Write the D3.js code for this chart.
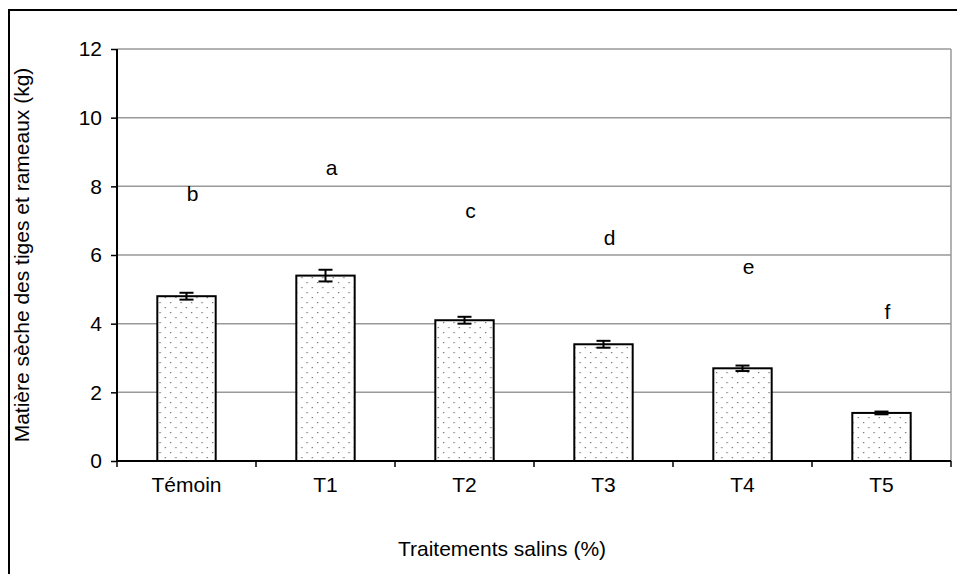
<!DOCTYPE html>
<html>
<head>
<meta charset="utf-8">
<script src="https://cdn.jsdelivr.net/npm/d3@7"></script>
<style>
  body { margin: 0; background: #fff; }
  svg { display: block; font-family: "Liberation Sans", Arial, sans-serif; }
</style>
</head>
<body>
<svg id="chart" width="957" height="574"></svg>
<script>
const categories = ["Témoin", "T1", "T2", "T3", "T4", "T5"];
const values = [4.8, 5.4, 4.1, 3.4, 2.7, 1.4];
const errors = [0.1, 0.17, 0.1, 0.1, 0.08, 0.04];
const letters = ["b", "a", "c", "d", "e", "f"];
const letterLevels = [7.8, 8.55, 7.3, 6.5, 5.65, 4.35];
const yTicks = [0, 2, 4, 6, 8, 10, 12];

const svg = d3.select("#chart");
const plot = { left: 117, right: 951, top: 49, bottom: 461 };

// outer frame (only top and left visible)
svg.append("path")
  .attr("d", "M9,574 V10 H957")
  .attr("fill", "none")
  .attr("stroke", "#000")
  .attr("stroke-width", 2);

const x = d3.scaleBand()
  .domain(categories)
  .range([plot.left, plot.right])
  .paddingInner(0.58)
  .paddingOuter(0.29);

const y = d3.scaleLinear()
  .domain([0, 12])
  .range([plot.bottom, plot.top]);

// dotted fill
const pat = svg.append("defs").append("pattern")
  .attr("id", "dots")
  .attr("patternUnits", "userSpaceOnUse")
  .attr("width", 10.5)
  .attr("height", 10);
pat.append("rect").attr("width", 10.5).attr("height", 10).attr("fill", "#fff");
pat.append("rect").attr("x", 2).attr("y", 2).attr("width", 1.2).attr("height", 1.2).attr("fill", "#666");
pat.append("rect").attr("x", 7.25).attr("y", 7).attr("width", 1.2).attr("height", 1.2).attr("fill", "#666");

// gridlines
svg.append("g")
  .selectAll("line")
  .data(yTicks.filter(d => d > 0))
  .join("line")
  .attr("x1", plot.left)
  .attr("x2", plot.right)
  .attr("y1", d => y(d))
  .attr("y2", d => y(d))
  .attr("stroke", "#999")
  .attr("stroke-width", 1.5);

// right border of plot area
svg.append("line")
  .attr("x1", plot.right).attr("x2", plot.right)
  .attr("y1", plot.top).attr("y2", plot.bottom)
  .attr("stroke", "#999")
  .attr("stroke-width", 1.5);

// bars
svg.append("g")
  .selectAll("rect")
  .data(values)
  .join("rect")
  .attr("x", (d, i) => x(categories[i]))
  .attr("y", d => y(d))
  .attr("width", x.bandwidth())
  .attr("height", d => y(0) - y(d))
  .attr("fill", "url(#dots)")
  .attr("stroke", "#000")
  .attr("stroke-width", 2);

// error bars
const eb = svg.append("g").attr("stroke", "#000").attr("stroke-width", 2);
values.forEach((v, i) => {
  const cx = x(categories[i]) + x.bandwidth() / 2;
  const e = errors[i];
  eb.append("line").attr("x1", cx).attr("x2", cx).attr("y1", y(v + e)).attr("y2", y(v - e));
  eb.append("line").attr("x1", cx - 7).attr("x2", cx + 7).attr("y1", y(v + e)).attr("y2", y(v + e));
  eb.append("line").attr("x1", cx - 7).attr("x2", cx + 7).attr("y1", y(v - e)).attr("y2", y(v - e));
});

// significance letters
svg.append("g")
  .selectAll("text")
  .data(letters)
  .join("text")
  .attr("x", (d, i) => x(categories[i]) + x.bandwidth() / 2 + 6)
  .attr("y", (d, i) => y(letterLevels[i]))
  .attr("dy", "0.35em")
  .attr("text-anchor", "middle")
  .attr("font-size", 21)
  .text(d => d);

// y axis
const yAxis = svg.append("g")
  .attr("transform", `translate(${plot.left},0)`)
  .call(d3.axisLeft(y).tickValues(yTicks).tickSize(6).tickPadding(9));
yAxis.select(".domain").attr("stroke-width", 2).attr("d", `M0,${plot.top}V${plot.bottom}`);
yAxis.selectAll(".tick line").attr("stroke-width", 1.5);
yAxis.selectAll("text").attr("font-size", 21).attr("fill", "#000").style("font-family", "Liberation Sans, Arial, sans-serif");

// x axis with ticks at category boundaries
const xAxis = svg.append("g")
  .attr("transform", `translate(0,${plot.bottom})`);
xAxis.append("line")
  .attr("x1", plot.left).attr("x2", plot.right)
  .attr("stroke", "#000").attr("stroke-width", 2);
const step = x.step();
xAxis.selectAll(".xt")
  .data(d3.range(categories.length + 1))
  .join("line")
  .attr("class", "xt")
  .attr("x1", i => plot.left + i * step)
  .attr("x2", i => plot.left + i * step)
  .attr("y1", 0).attr("y2", 6)
  .attr("stroke", "#000").attr("stroke-width", 1.5);
xAxis.selectAll(".xl")
  .data(categories)
  .join("text")
  .attr("class", "xl")
  .attr("x", d => x(d) + x.bandwidth() / 2)
  .attr("y", 31)
  .attr("text-anchor", "middle")
  .attr("font-size", 21)
  .text(d => d);

// axis titles
svg.append("text")
  .attr("x", 502)
  .attr("y", 556)
  .attr("text-anchor", "middle")
  .attr("font-size", 21)
  .text("Traitements salins (%)");

svg.append("text")
  .attr("transform", `translate(29,${(plot.top + plot.bottom) / 2}) rotate(-90)`)
  .attr("text-anchor", "middle")
  .attr("font-size", 21)
  .text("Matière sèche des tiges et rameaux (kg)");
</script>
</body>
</html>
